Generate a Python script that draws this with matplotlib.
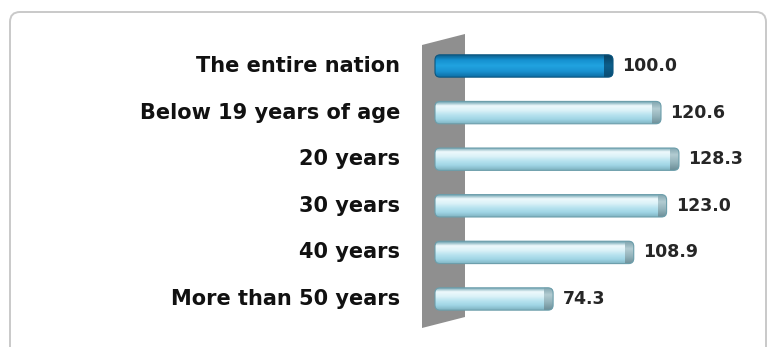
import numpy as np
import matplotlib.pyplot as plt
from matplotlib.colors import LinearSegmentedColormap
from matplotlib.patches import FancyBboxPatch, Polygon

# data
categories = ['The entire nation', 'Below 19 years of age', '20 years',
              '30 years', '40 years', 'More than 50 years']
values = [100.0, 120.6, 128.3, 123.0, 108.9, 74.3]
value_labels = ['100.0', '120.6', '128.3', '123.0', '108.9', '74.3']

W, H = 768, 347
fig = plt.figure(figsize=(W / 100, H / 100), dpi=100)

# background axes in pixel units (frame + wall)
bg = fig.add_axes([0, 0, 1, 1], zorder=0)
bg.set_xlim(0, W)
bg.set_ylim(H, 0)
bg.axis('off')
frame = FancyBboxPatch((10, 12), 756, 360, boxstyle='round,pad=0,rounding_size=10',
                       fc='white', ec='#c9c9c9', lw=1.4)
bg.add_patch(frame)
wall = Polygon([(422, 45), (465, 34), (465, 317), (422, 328)], closed=True,
               fc='#8f8f8f', ec='none')
bg.add_patch(wall)

# main axes in value units
ax = fig.add_axes([0, 0, 1, 1], zorder=1)
ax.patch.set_alpha(0)
px_per_unit = 2.33
x_zero = 380
row0, row_step = 66, 46.6
xlim = (-x_zero / px_per_unit, (W - x_zero) / px_per_unit)
ylim = ((H - row0) / row_step, -row0 / row_step)
ax.axis('off')

base = (435 - x_zero) / px_per_unit   # bars start at the wall
bar_h = 0.48
cap_w = 9 / px_per_unit

dark_cmap = LinearSegmentedColormap.from_list('dark', ['#0b5680', '#1590cf', '#21a3e0', '#1a93d2', '#0e6fa6'])
light_cmap = LinearSegmentedColormap.from_list('light', ['#5f99a8', '#eef9fc', '#dcf2f8', '#b8e3ef', '#9fd5e5', '#7fb3c1'])
dark_cap = LinearSegmentedColormap.from_list('dcap', ['#083f5e', '#0d5f8c', '#0a4d73'])
light_cap = LinearSegmentedColormap.from_list('lcap', ['#7ea3ad', '#b3ccd2', '#93b3bb', '#6d8f99'])

grad = np.linspace(0, 1, 64).reshape(-1, 1)
font = ['DejaVu Sans']

for i, (cat, v, lab) in enumerate(zip(categories, values, value_labels)):
    top = i - bar_h / 2
    box = FancyBboxPatch((base, top), v - base, bar_h,
                         boxstyle='round,pad=0,rounding_size=2.2',
                         mutation_aspect=px_per_unit / row_step,
                         fc='none', ec='#6c9eab' if i else '#0b5680', lw=0.8, zorder=3)
    ax.add_patch(box)
    cm = dark_cmap if i == 0 else light_cmap
    im = ax.imshow(grad, cmap=cm, aspect='auto', extent=[base, v, i + bar_h / 2, top],
                   zorder=2)
    im.set_clip_path(box)
    cm2 = dark_cap if i == 0 else light_cap
    im2 = ax.imshow(grad, cmap=cm2, aspect='auto',
                    extent=[v - cap_w, v, i + bar_h / 2, top], zorder=2.5)
    im2.set_clip_path(box)
    ax.text(v + 4, i, lab, ha='left', va='center', fontsize=12.5, fontweight='bold',
            color='#262626', family=font, zorder=4)
    ax.text((400 - x_zero) / px_per_unit, i, cat, ha='right', va='center', fontsize=15,
            fontweight='bold', color='#111111', family=font, zorder=4)

ax.set_xlim(*xlim)
ax.set_ylim(*ylim)

fig.savefig('out.png', dpi=100)
